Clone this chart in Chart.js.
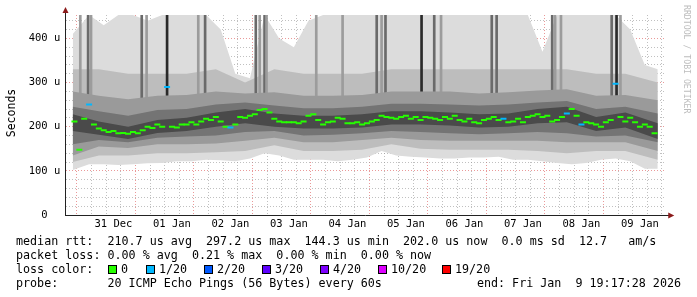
<!DOCTYPE html>
<html>
<head>
<meta charset="utf-8">
<script src="https://cdn.jsdelivr.net/npm/chart.js@4/dist/chart.umd.min.js"></script>
<style>
  body { margin: 0; background: #fff; }
  #wrap { position: relative; width: 697px; height: 297px; overflow: hidden; font-family: "DejaVu Sans Mono", monospace; }
  #wrap canvas { position: absolute; left: 0; top: 0; }
  .t { position: absolute; font-size: 11.7px; line-height: 14px; white-space: pre; color: #000; }
  .box { position: absolute; width: 7px; height: 7px; border: 1px solid #000; top: 265px; }
  #ytitle { position: absolute; left: -14px; top: 106px; width: 50px; text-align: center; font-size: 11.5px; line-height: 14px; transform: rotate(-90deg); }
  #mark { position: absolute; left: 682px; top: 5px; font-size: 8.2px; color: #bdbdbd; writing-mode: vertical-rl; white-space: pre; }
</style>
</head>
<body>
<div id="wrap">
  <canvas id="grafico" width="697" height="297"></canvas>
  <div id="ytitle">Seconds</div>
  <div id="mark">RRDTOOL / TOBI OETIKER</div>
  <div class="t" style="left:16px;top:234px">median rtt:  210.7 us avg  297.2 us max  144.3 us min  202.0 us now  0.0 ms sd  12.7   am/s</div>
  <div class="t" style="left:16px;top:248px">packet loss: 0.00 % avg  0.21 % max  0.00 % min  0.00 % now</div>
  <div class="t" style="left:16px;top:262px">loss color:</div>
  <div id="legenda"></div>
  <div class="t" style="left:16px;top:276px">probe:       20 ICMP Echo Pings (56 Bytes) every 60s</div>
  <div class="t" style="right:16px;top:276px">end: Fri Jan  9 19:17:28 2026</div>
</div>
<script>
// horas contadas a partir de 31 Dec 00:00
const inicio = -4.7;
const fim = 235.3;
const topo = 453;

const diasLabels = ["31 Dec", "01 Jan", "02 Jan", "03 Jan", "04 Jan", "05 Jan", "06 Jan", "07 Jan", "08 Jan", "09 Jan"];

// mediana (us), uma amostra a cada 2h desde -4h
const medianaInicio = -4;
const medianaPasso = 2;
const mediana = [
  212, 148, 218, 250, 205, 196, 192, 188, 190, 185,
  186, 184, 188, 185, 192, 200, 197, 205, 200, 290,
  200, 198, 205, 205, 210, 205, 212, 218, 215, 222,
  212, 200, 198, 205, 222, 220, 225, 228, 238, 240,
  232, 218, 212, 210, 210, 210, 208, 212, 225, 228,
  215, 205, 210, 212, 220, 218, 208, 208, 210, 205,
  208, 212, 215, 225, 222, 220, 218, 222, 225, 218,
  222, 215, 222, 220, 218, 215, 222, 218, 225, 215,
  212, 218, 210, 208, 215, 218, 222, 215, 218, 210,
  212, 218, 210, 222, 225, 228, 222, 225, 212, 215,
  222, 230, 240, 225, 205, 210, 208, 205, 200, 210,
  215, 297, 222, 212, 220, 210, 200, 205, 200, 185
];
// horas com perda de 1/20
const perdaHoras = [2, 34, 60, 172, 198, 204, 218];

// envelope externo da fumaça, a cada 6h
const horas6 = [-4.7, 2, 8, 14, 20, 26, 32, 38, 44, 50, 56, 62, 68, 74, 80, 86, 92, 98, 104, 110,
  116, 122, 128, 134, 140, 146, 152, 158, 164, 170, 176, 182, 188, 194, 200, 206, 212, 218, 224, 230, 235.3];
const minFumaca = [102, 115, 115, 113, 115, 117, 118, 122, 122, 125, 124, 122, 128, 140, 135, 125, 125, 125, 122, 125,
  130, 145, 135, 132, 130, 128, 128, 130, 130, 132, 125, 125, 122, 118, 115, 118, 125, 128, 122, 105, 105];
const maxFumaca = [410, 453, 430, 453, 453, 440, 453, 453, 453, 453, 420, 320, 310, 453, 400, 380, 440, 453, 453, 453,
  453, 453, 453, 453, 453, 453, 453, 453, 453, 453, 453, 453, 370, 453, 453, 453, 453, 453, 420, 340, 330];

// faixas internas, a cada 12h
const horas12 = [-4.7, 6, 18, 30, 42, 54, 66, 78, 90, 102, 114, 126, 138, 150, 162, 174, 186, 198, 210, 222, 235.3];
const faixa2Min = [120, 135, 135, 140, 140, 142, 145, 158, 145, 145, 148, 160, 150, 148, 148, 148, 145, 140, 145, 145, 125];
const faixa2Max = [330, 330, 320, 320, 320, 330, 300, 330, 320, 320, 320, 330, 330, 330, 330, 330, 330, 330, 320, 320, 300];
const faixa3Min = [135, 155, 152, 160, 160, 162, 168, 175, 165, 165, 170, 175, 170, 168, 168, 168, 168, 165, 165, 165, 145];
const faixa3Max = [280, 270, 262, 270, 272, 280, 275, 278, 270, 270, 272, 280, 280, 280, 275, 278, 282, 285, 270, 272, 260];
const faixa4Min = [160, 170, 165, 175, 178, 180, 188, 190, 180, 182, 185, 190, 188, 185, 183, 185, 188, 185, 178, 180, 165];
const faixa4Max = [245, 235, 225, 238, 240, 250, 255, 248, 242, 242, 245, 252, 252, 250, 248, 250, 255, 258, 240, 245, 230];
const faixa5Min = [190, 182, 172, 186, 190, 200, 208, 200, 196, 196, 198, 205, 205, 203, 198, 200, 208, 210, 190, 198, 172];
const faixa5Max = [228, 212, 200, 215, 220, 232, 240, 230, 225, 225, 228, 235, 235, 232, 228, 230, 240, 245, 222, 232, 208];

// pings isolados acima da escala
const picosHoras = [-1.6, 1.6, 2.8, 23.6, 25.6, 34, 46.8, 49.6, 70.4, 72, 74, 74.8, 95.2, 106, 120, 122, 123.6, 138.4,
  143.6, 146.4, 167.2, 169.2, 192, 193.2, 195.6, 216.4, 218.4, 220];
const picosPings = [1, 2, 1, 2, 1, 3, 1, 2, 2, 1, 2, 1, 1, 1, 2, 1, 2, 3, 2, 1, 2, 2, 2, 1, 1, 2, 3, 1];
const picosBase = [150, 190, 170, 180, 180, 200, 180, 180, 190, 180, 190, 180, 180, 180, 190, 180, 190, 200,
  190, 180, 190, 190, 190, 180, 180, 190, 200, 180];

const perdaLabels = ["0", "1/20", "2/20", "3/20", "4/20", "10/20", "19/20"];
const perdaCores = ["#26ff00", "#00b8ff", "#0059ff", "#5e00ff", "#7e00ff", "#dd00ff", "#ff0000"];

document.addEventListener("DOMContentLoaded", () => {
  const caixaX = [108, 146, 204, 262, 320, 378, 442];
  const legenda = document.getElementById("legenda");
  perdaLabels.forEach((txt, i) => {
    const b = document.createElement("div");
    b.className = "box";
    b.style.left = caixaX[i] + "px";
    b.style.background = perdaCores[i];
    legenda.appendChild(b);
    const t = document.createElement("div");
    t.className = "t";
    t.style.left = (caixaX[i] + 13) + "px";
    t.style.top = "262px";
    t.textContent = txt;
    legenda.appendChild(t);
  });

  function faixa(horas, min, max, cor, ordem) {
    return [
      { type: "line", data: horas.map((h, i) => ({ x: h, y: min[i] })), borderWidth: 0, borderColor: "transparent",
        pointRadius: 0, fill: false, order: ordem },
      { type: "line", data: horas.map((h, i) => ({ x: h, y: max[i] })), borderWidth: 0, borderColor: "transparent",
        pointRadius: 0, fill: "-1", backgroundColor: cor, order: ordem }
    ];
  }

  const datasets = [
    ...faixa(horas6, minFumaca, maxFumaca, "#dcdcdc", 10),
    ...faixa(horas12, faixa2Min, faixa2Max, "#bdbdbd", 9),
    {
      type: "bar",
      data: picosHoras.map((h, i) => ({ x: h, y: [picosBase[i], topo] })),
      backgroundColor: picosPings.map(p => p >= 3 ? "#2a2a2a" : p === 2 ? "#6a6a6a" : "#9c9c9c"),
      barThickness: 2,
      order: 8
    },
    ...faixa(horas12, faixa3Min, faixa3Max, "#9a9a9a", 7),
    ...faixa(horas12, faixa4Min, faixa4Max, "#747474", 6),
    ...faixa(horas12, faixa5Min, faixa5Max, "#4a4a4a", 5),
    {
      type: "line",
      data: mediana.map((v, i) => ({ x: medianaInicio + i * medianaPasso, y: v })),
      showLine: false,
      pointStyle: "line",
      pointRadius: 3,
      pointBorderWidth: 2,
      pointBorderColor: ctx => perdaHoras.includes(medianaInicio + ctx.dataIndex * medianaPasso) ? "#00b8ff" : "#26ff00",
      order: 0
    }
  ];

  const setas = {
    id: "setas",
    afterDraw(chart) {
      const { ctx, chartArea: a } = chart;
      const x0 = Math.round(a.left) + 0.5;
      const y0 = Math.round(a.bottom) + 0.5;
      ctx.save();
      ctx.strokeStyle = "#222";
      ctx.lineWidth = 1;
      ctx.beginPath();
      ctx.moveTo(x0, a.top); ctx.lineTo(x0, a.top - 4);
      ctx.moveTo(a.right, y0); ctx.lineTo(a.right + 4, y0);
      ctx.stroke();
      ctx.fillStyle = "#8b1a1a";
      ctx.beginPath();
      ctx.moveTo(x0, a.top - 8); ctx.lineTo(x0 - 3, a.top - 2); ctx.lineTo(x0 + 3, a.top - 2);
      ctx.closePath(); ctx.fill();
      ctx.beginPath();
      ctx.moveTo(a.right + 9, y0); ctx.lineTo(a.right + 3, y0 - 3); ctx.lineTo(a.right + 3, y0 + 3);
      ctx.closePath(); ctx.fill();
      ctx.restore();
    }
  };

  const fonte = { family: "DejaVu Sans Mono", size: 10.5 };

  new Chart(document.getElementById("grafico"), {
    type: "line",
    data: { datasets },
    plugins: [setas],
    options: {
      responsive: false,
      animation: false,
      devicePixelRatio: 1,
      layout: { padding: { left: 0, top: 15, right: 31.75, bottom: 0 } },
      plugins: { legend: { display: false }, tooltip: { enabled: false } },
      scales: {
        x: {
          type: "linear",
          min: inicio,
          max: fim,
          z: 1,
          afterFit: s => { s.height = 82; },
          afterBuildTicks: s => {
            const t = [];
            for (let h = 0; h <= fim; h += 6) t.push({ value: h });
            s.ticks = t;
          },
          ticks: {
            autoSkip: false,
            maxRotation: 0,
            padding: 3,
            color: "#000",
            font: fonte,
            callback: v => (v % 24 === 12 ? diasLabels[(v - 12) / 24] : "")
          },
          grid: {
            drawTicks: false,
            color: c => (c.tick && c.tick.value % 24 === 0 ? "rgba(225,110,110,0.7)" : "rgba(150,150,150,0.6)")
          },
          border: { color: "#222", width: 1, dash: [1, 2] }
        },
        y: {
          min: 0,
          max: topo,
          z: 1,
          afterFit: s => { s.width = 65.25; },
          afterBuildTicks: s => {
            const t = [];
            for (let v = 0; v <= 440; v += 20) t.push({ value: v });
            s.ticks = t;
          },
          ticks: {
            autoSkip: false,
            padding: 5,
            color: "#000",
            font: fonte,
            callback: v => (v % 100 === 0 ? (v === 0 ? "0  " : v + " u") : "")
          },
          grid: {
            drawTicks: false,
            color: c => (!c.tick || c.tick.value === 0 ? "rgba(0,0,0,0)" :
              c.tick.value % 100 === 0 ? "rgba(225,110,110,0.7)" : "rgba(150,150,150,0.6)")
          },
          border: { color: "#222", width: 1, dash: [1, 2] }
        }
      }
    }
  });
});
</script>
</body>
</html>
